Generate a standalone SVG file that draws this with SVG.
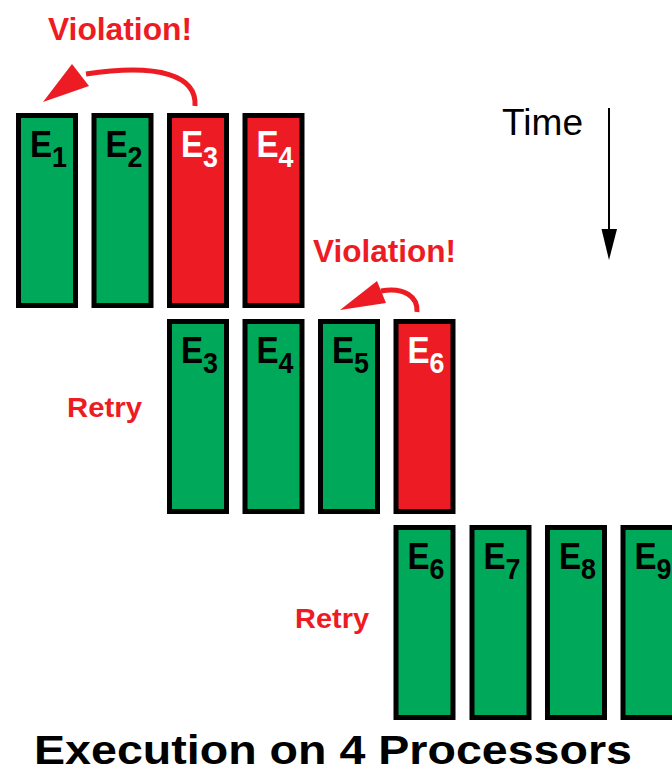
<svg xmlns="http://www.w3.org/2000/svg" width="672" height="774" viewBox="0 0 672 774">
<style>
.g{fill:#00A859;stroke:#000;stroke-width:5}
.r{fill:#ED1C24;stroke:#000;stroke-width:5}
.e{font-family:"Liberation Sans",Arial,sans-serif;font-weight:bold;font-size:37px}
.s{font-size:30px}
.k{fill:#000}
.w{fill:#fff}
.red{fill:#ED1C24;font-family:"Liberation Sans",Arial,sans-serif;font-weight:bold}
</style>
<rect width="672" height="774" fill="#fff"/>
<g id="connectors">
<path d="M195,106 C197,76 160,63 86,74" fill="none" stroke="#ED1C24" stroke-width="5"/>
<polygon points="43,102 72,64 89,86" fill="#ED1C24"/>
<path d="M417,312 C418,297 405,287 381,291" fill="none" stroke="#ED1C24" stroke-width="5"/>
<polygon points="340,310 377,281 386,303" fill="#ED1C24"/>
<line x1="609" y1="108" x2="609" y2="232" stroke="#000" stroke-width="2"/>
<polygon points="601.5,229 617,229 609,260" fill="#000"/>
</g>
<g id="r1e1"><rect class="g" x="18.5" y="115.5" width="57" height="190"/><text class="e k" x="30" y="157" textLength="37" lengthAdjust="spacingAndGlyphs">E<tspan class="s" dy="10">1</tspan></text></g>
<g id="r1e2"><rect class="g" x="94" y="115.5" width="57" height="190"/><text class="e k" x="105.5" y="157" textLength="37" lengthAdjust="spacingAndGlyphs">E<tspan class="s" dy="10">2</tspan></text></g>
<g id="r1e3"><rect class="r" x="169.5" y="115.5" width="57" height="190"/><text class="e w" x="181" y="157" textLength="37" lengthAdjust="spacingAndGlyphs">E<tspan class="s" dy="10">3</tspan></text></g>
<g id="r1e4"><rect class="r" x="245" y="115.5" width="57" height="190"/><text class="e w" x="256.5" y="157" textLength="37" lengthAdjust="spacingAndGlyphs">E<tspan class="s" dy="10">4</tspan></text></g>

<g id="r2e3"><rect class="g" x="169.5" y="321.5" width="57" height="190"/><text class="e k" x="181" y="363" textLength="37" lengthAdjust="spacingAndGlyphs">E<tspan class="s" dy="10">3</tspan></text></g>
<g id="r2e4"><rect class="g" x="245" y="321.5" width="57" height="190"/><text class="e k" x="256.5" y="363" textLength="37" lengthAdjust="spacingAndGlyphs">E<tspan class="s" dy="10">4</tspan></text></g>
<g id="r2e5"><rect class="g" x="320.5" y="321.5" width="57" height="190"/><text class="e k" x="332" y="363" textLength="37" lengthAdjust="spacingAndGlyphs">E<tspan class="s" dy="10">5</tspan></text></g>
<g id="r2e6"><rect class="r" x="396" y="321.5" width="57" height="190"/><text class="e w" x="407.5" y="363" textLength="37" lengthAdjust="spacingAndGlyphs">E<tspan class="s" dy="10">6</tspan></text></g>

<g id="r3e6"><rect class="g" x="396" y="527.5" width="57" height="190"/><text class="e k" x="407.5" y="569" textLength="37" lengthAdjust="spacingAndGlyphs">E<tspan class="s" dy="10">6</tspan></text></g>
<g id="r3e7"><rect class="g" x="472" y="527.5" width="57" height="190"/><text class="e k" x="483.5" y="569" textLength="37" lengthAdjust="spacingAndGlyphs">E<tspan class="s" dy="10">7</tspan></text></g>
<g id="r3e8"><rect class="g" x="547.5" y="527.5" width="57" height="190"/><text class="e k" x="559" y="569" textLength="37" lengthAdjust="spacingAndGlyphs">E<tspan class="s" dy="10">8</tspan></text></g>
<g id="r3e9"><rect class="g" x="623" y="527.5" width="57" height="190"/><text class="e k" x="634.5" y="569" textLength="37" lengthAdjust="spacingAndGlyphs">E<tspan class="s" dy="10">9</tspan></text></g>

<g id="labels">
<text class="red" x="48" y="40" font-size="32" textLength="144" lengthAdjust="spacingAndGlyphs">Violation!</text>
<text class="red" x="313" y="262" font-size="32" textLength="143" lengthAdjust="spacingAndGlyphs">Violation!</text>
<text class="red" x="67" y="417" font-size="28" textLength="75" lengthAdjust="spacingAndGlyphs">Retry</text>
<text class="red" x="295" y="628" font-size="28" textLength="74" lengthAdjust="spacingAndGlyphs">Retry</text>
<text x="502" y="135" font-family="Liberation Sans,Arial,sans-serif" font-size="36" fill="#000" textLength="81" lengthAdjust="spacingAndGlyphs">Time</text>
<text x="34" y="764" font-family="Liberation Sans,Arial,sans-serif" font-weight="bold" font-size="40" fill="#000" textLength="598" lengthAdjust="spacingAndGlyphs">Execution on 4 Processors</text>
</g>
</svg>
